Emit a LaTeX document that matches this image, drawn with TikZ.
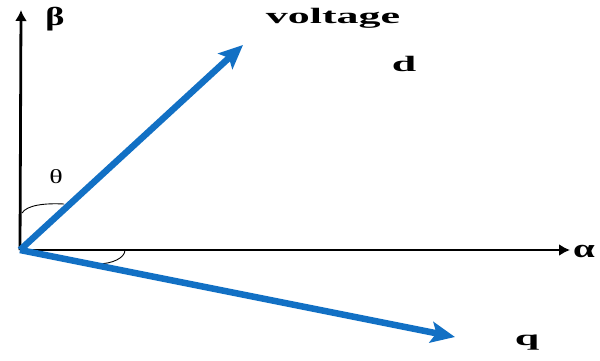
\documentclass[tikz,border=0pt]{standalone}
\usepackage{fontspec}
\setmainfont{Liberation Serif}
\usetikzlibrary{arrows.meta}
\tikzset{
  axis/.style={line width=2.8pt,-{Latex[length=11pt,width=12pt]}},
  vec/.style={line width=6.5pt,draw={rgb,255:red,18;green,112;blue,196},-{Stealth[length=24pt,width=21pt,inset=5pt]}},
  lbl/.style={font=\bfseries\fontsize{22}{22}\selectfont,inner sep=0pt},
  arcst/.style={line width=0.9pt}
}
\begin{document}
\begin{tikzpicture}[x=1pt,y=-1pt]
\useasboundingbox (0,0) rectangle (600,360);
\coordinate (O) at (20,250);
\coordinate (B) at (21,10);
\coordinate (A) at (570,250);
\coordinate (V) at (243,45);
\coordinate (Q) at (455,337);
\coordinate (t1) at (22,213);
\coordinate (t2) at (64,204);
\coordinate (a1) at (125,250);
\coordinate (a2) at (97,264);
\draw[axis] (O) -- (B);
\draw[axis] (O) -- (A);
\draw[arcst] (t1) .. controls (27,205) and (45,203) .. (t2);
\draw[arcst] (a1) .. controls (125,258) and (112,264) .. (a2);
\draw[vec] (O) -- (V);
\draw[vec] (O) -- (Q);
\node[lbl,font=\bfseries\fontsize{26}{26}\selectfont] (beta) at (55,19) {\scalebox{1.4}[1]{β}};
\node[lbl,font=\bfseries\fontsize{26}{26}\selectfont] (alpha) at (584,251) {\scalebox{1.5}[1]{α}};
\node[lbl] (volt) at (333,18) {\scalebox{2}[1]{voltage}};
\node[lbl] (d) at (404,64) {\scalebox{2}[1]{d}};
\node[lbl] (q) at (527,343) {\scalebox{2}[1]{q}};
\node[inner sep=0pt,font=\fontsize{20}{20}\selectfont] (theta) at (56,177) {\scalebox{1.4}[1]{θ}};
\end{tikzpicture}
\end{document}
